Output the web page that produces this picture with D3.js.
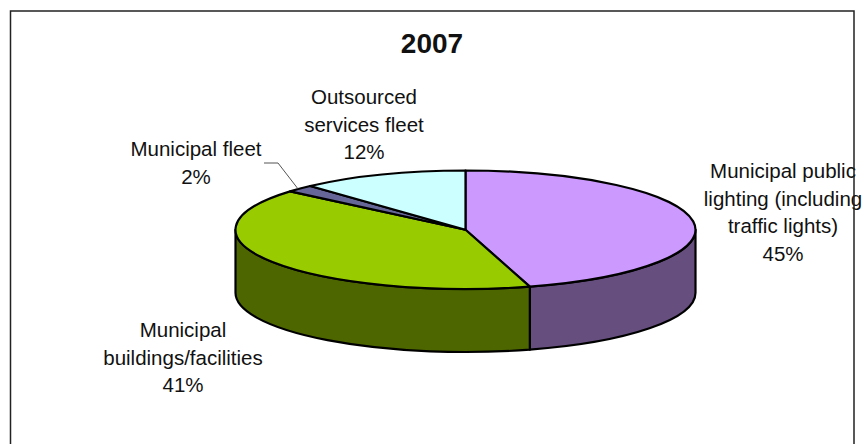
<!DOCTYPE html>
<html>
<head>
<meta charset="utf-8">
<style>
  html, body { margin: 0; padding: 0; background: #fff; }
  text { font-family: "Liberation Sans", Arial, sans-serif; fill: #111; }
</style>
<script src="https://cdn.jsdelivr.net/npm/d3@7"></script>
</head>
<body>
<svg id="chart"></svg>
<script>
const chartTitle = "2007";
const categories = [
  ["Municipal public", "lighting (including", "traffic lights)"],
  ["Municipal", "buildings/facilities"],
  ["Municipal fleet"],
  ["Outsourced", "services fleet"]
];
const shares = [45.49, 40.71, 2, 11.8];
const topColors = ["#cc99ff", "#99cc00", "#666699", "#ccffff"];
const wallColors = ["#664f7f", "#4d6600", "#333350", "#667f7f"];

const width = 866, height = 444;
const labelAnchors = [[783, 178], [183, 337], [196, 156], [364, 104]];
const lineHeight = 27.6;
const depth = 63;

const svg = d3.select("#chart")
  .attr("width", width)
  .attr("height", height)
  .style("display", "block");

const labelsLayer = svg.append("g");

// frame, open at the bottom
svg.append("path")
  .attr("d", d3.line()([[10.5, height], [10.5, 11], [854, 11], [854, height]]))
  .attr("fill", "none")
  .attr("stroke", "#222")
  .attr("stroke-width", 1.5);

svg.append("text")
  .attr("x", 432)
  .attr("y", 53)
  .attr("text-anchor", "middle")
  .attr("font-weight", "bold")
  .attr("font-size", 28)
  .text(chartTitle);

// unit circle squashed into the tilted ellipse
const xscale = d3.scaleLinear().domain([-1, 1]).range([235.5, 695.5]);
const yscale = d3.scaleLinear().domain([-1, 1]).range([170.5, 289]);
const rx = (xscale(1) - xscale(-1)) / 2;
const ry = (yscale(1) - yscale(-1)) / 2;
const px = a => xscale(Math.sin(a));
const py = a => yscale(-Math.cos(a));

const slices = d3.pie().sort(null).value(d => d)(shares)
  .map((s, i) => ({ ...s, i }));

const arcCmd = (a0, a1, dy, sweep) =>
  `A${rx},${ry} 0 ${Math.abs(a1 - a0) > Math.PI ? 1 : 0} ${sweep} ${px(a1)},${py(a1) + dy}`;

// only the front half of the rim can be seen
const walls = slices
  .map(s => ({
    i: s.i,
    a0: Math.max(s.startAngle, Math.PI / 2),
    a1: Math.min(s.endAngle, 3 * Math.PI / 2)
  }))
  .filter(w => w.a1 > w.a0);

svg.append("g").selectAll("path")
  .data(walls)
  .join("path")
  .attr("d", w => `M${px(w.a0)},${py(w.a0)} ${arcCmd(w.a0, w.a1, 0, 1)}` +
    ` L${px(w.a1)},${py(w.a1) + depth} ${arcCmd(w.a1, w.a0, depth, 0)} Z`)
  .attr("fill", w => wallColors[w.i])
  .attr("stroke", "#000")
  .attr("stroke-width", 2.2)
  .attr("stroke-linejoin", "round");

svg.append("g").selectAll("path")
  .data(slices)
  .join("path")
  .attr("d", s => `M${xscale(0)},${yscale(0)} L${px(s.startAngle)},${py(s.startAngle)} ` +
    `${arcCmd(s.startAngle, s.endAngle, 0, 1)} Z`)
  .attr("fill", s => topColors[s.i])
  .attr("stroke", "#000")
  .attr("stroke-width", 2.2)
  .attr("stroke-linejoin", "round");

// leader line of the small slice
const fleet = slices[2];
const fleetMid = (fleet.startAngle + fleet.endAngle) / 2;
svg.append("path")
  .attr("d", d3.line()([[264, 163], [278, 163], [px(fleetMid) - 2, py(fleetMid)]]))
  .attr("fill", "none")
  .attr("stroke", "#555")
  .attr("stroke-width", 1);

const labels = labelsLayer.selectAll("text")
  .data(slices)
  .join("text")
  .attr("text-anchor", "middle")
  .attr("font-size", 20.5);

labels.each(function(s) {
  const [x, y] = labelAnchors[s.i];
  const lines = [...categories[s.i], Math.round(s.data) + "%"];
  d3.select(this).selectAll("tspan")
    .data(lines)
    .join("tspan")
    .attr("x", x)
    .attr("y", (d, k) => y + k * lineHeight)
    .text(d => d);
});
</script>
</body>
</html>
